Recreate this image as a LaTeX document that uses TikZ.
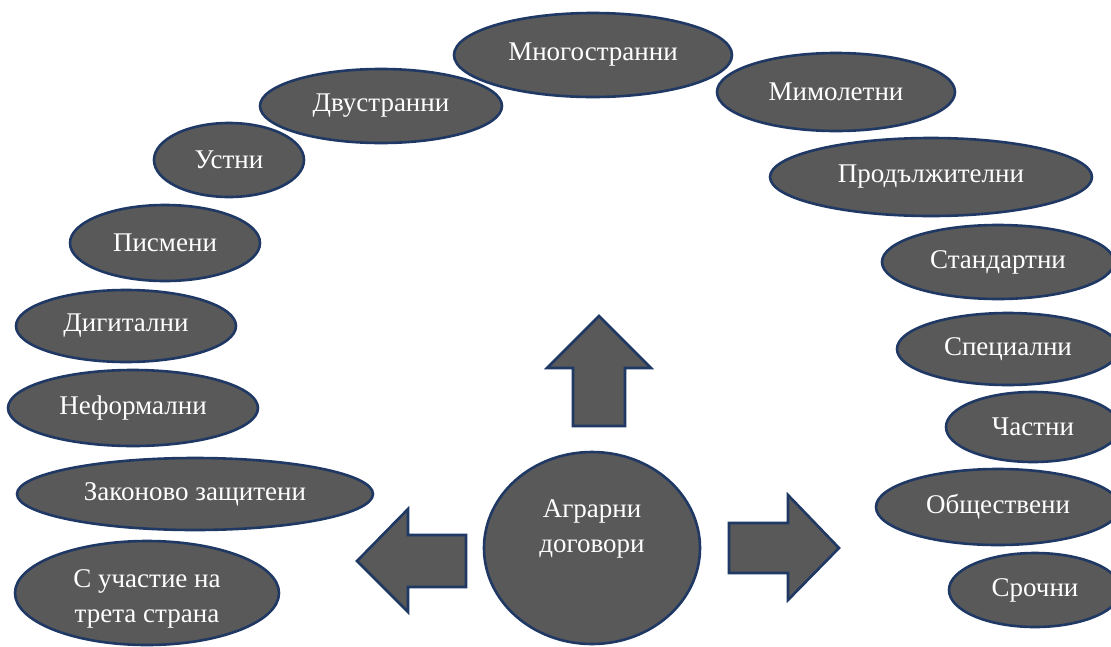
\documentclass[tikz,border=0pt]{standalone}
\usepackage{fontspec}
\setmainfont{Liberation Serif}
\usetikzlibrary{shapes.geometric}
\definecolor{ovalfill}{HTML}{595959}
\definecolor{ovalline}{HTML}{1F3864}
\tikzset{
  oval/.style={ellipse, draw=ovalline, fill=ovalfill, line width=2.6pt, inner sep=0pt,
    text=white, font=\fontsize{27}{35}\selectfont, align=center},
  blockarrow/.style={draw=ovalline, fill=ovalfill, line width=2.6pt, line join=miter},
  lbl/.style={text=white, font=\fontsize{27}{35}\selectfont, align=center, inner sep=0pt}
}
\newcommand{\ov}[6]{\node[oval, minimum width=#4pt, minimum height=#5pt] (#1) at (#2,#3) {#6};}
\begin{document}
\begin{tikzpicture}[x=1pt,y=-1pt]
\useasboundingbox (0,0) rectangle (1111,646);
\clip (0,0) rectangle (1111,646);
\fill[white] (0,0) rectangle (1111,646);
\ov{mnogo}{593}{55}{278}{84}{Многостранни}
\ov{mimol}{836}{92}{238}{78}{Мимолетни}
\ov{dvustr}{381}{106}{242}{74}{Двустранни}
\ov{ustni}{229}{160}{150}{74}{Устни}
\ov{prod}{931}{177}{322}{78}{Продължителни}
\ov{pism}{165}{243}{190}{76}{Писмени}
\ov{stand}{998}{262}{232}{74}{Стандартни}
\ov{digit}{126}{326}{220}{72}{Дигитални}
\ov{spec}{1008}{349}{222}{72}{Специални}
\ov{neform}{133}{408}{250}{76}{Неформални}
\ov{chast}{1033}{427}{174}{70}{Частни}
\ov{zakon}{195}{494}{356}{72}{Законово защитени}
\ov{obsht}{998}{507}{244}{76}{Обществени}
\ov{uchast}{147}{593}{264}{104}{}
\node[lbl] (uchasttext) at (147,599) {С участие на\\трета страна};
\ov{sroch}{1035}{590}{172}{74}{Срочни}
\node[ellipse, draw=ovalline, fill=ovalfill, line width=2.6pt, inner sep=0pt,
  minimum width=216pt, minimum height=192pt] (agr) at (592,548) {};
\node[lbl] (agrtext) at (592,529) {Аграрни\\договори};
% up arrow
\draw[blockarrow] (599,316) -- (651,368) -- (625,368) -- (625,426) -- (573,426) -- (573,368) -- (547,368) -- cycle;
% left arrow
\draw[blockarrow] (357,561) -- (408,509) -- (408,535) -- (466,535) -- (466,587) -- (408,587) -- (408,612) -- cycle;
% right arrow
\draw[blockarrow] (839,548) -- (788,495) -- (788,523) -- (729,523) -- (729,573) -- (788,573) -- (788,600) -- cycle;
\end{tikzpicture}
\end{document}
